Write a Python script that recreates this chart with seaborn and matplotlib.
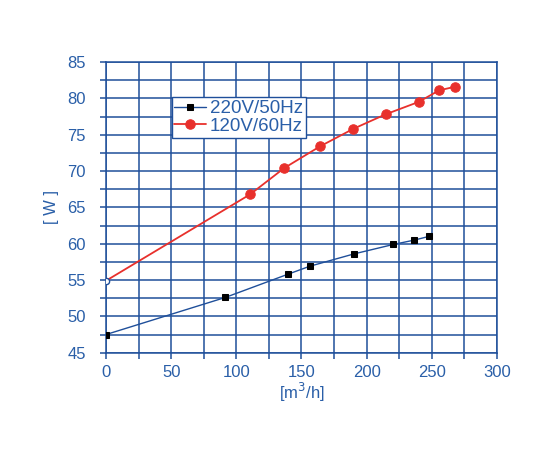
import matplotlib
matplotlib.use("Agg")
import matplotlib.pyplot as plt
import seaborn as sns
import numpy as np
import pandas as pd
from matplotlib.ticker import MultipleLocator

# Data
flow_220 = [0, 91.5, 139.6, 156.4, 190.4, 220.6, 236.7, 247.7]
power_220 = [47.5, 52.6, 55.8, 56.9, 58.6, 59.9, 60.5, 61.0]

flow_120 = [0, 110.7, 136.7, 164.3, 189.7, 214.5, 239.8, 255.6, 267.9]
power_120 = [54.9, 66.8, 70.4, 73.4, 75.8, 77.8, 79.5, 81.1, 81.6]

labels = ["220V/50Hz", "120V/60Hz"]

blue = "#1f4f9a"
text_blue = "#2a5fa8"
red = "#e8302c"

sns.set_theme(style="white")
plt.rcParams['font.family'] = ['Liberation Sans', 'DejaVu Sans']

fig = plt.figure(figsize=(5.5, 4.5), dpi=100)
ax = fig.add_axes([0.1927, 0.2162, 0.7109, 0.646])

df220 = pd.DataFrame({"flow": flow_220, "power": power_220})
df120 = pd.DataFrame({"flow": flow_120, "power": power_120})

sns.lineplot(data=df220, x="flow", y="power", ax=ax, color=blue, lw=1.0,
             marker="s", markersize=4.6, markerfacecolor="black",
             markeredgecolor="black", label=labels[0], zorder=3)
sns.lineplot(data=df120, x="flow", y="power", ax=ax, color=red, lw=1.3,
             marker="o", markersize=6.8, markerfacecolor=red,
             markeredgecolor=red, markevery=list(range(1, len(flow_120))),
             label=labels[1], zorder=3)
# open start point of the 120V curve
ax.plot(flow_120[:1], power_120[:1], ls="none", marker="o", markersize=4.5,
        markerfacecolor="white", markeredgecolor=blue, mew=1.0, zorder=4)

ax.set_xlim(0, 300)
ax.set_ylim(45, 85)
ax.xaxis.set_major_locator(MultipleLocator(50))
ax.xaxis.set_minor_locator(MultipleLocator(25))
ax.yaxis.set_major_locator(MultipleLocator(5))
ax.yaxis.set_minor_locator(MultipleLocator(2.5))

ax.grid(True, which="both", color=blue, lw=1.1)
ax.set_axisbelow(True)
for s in ax.spines.values():
    s.set_color(blue)
    s.set_linewidth(1.1)

ax.tick_params(which="both", direction="out", length=4.5, width=1.1,
               color=blue, labelcolor=text_blue, labelsize=12,
               bottom=True, left=True)
ax.tick_params(axis="x", which="both", pad=4)
ax.tick_params(axis="y", which="both", pad=10)

ax.set_xlabel("[m$^3$/h]", color=text_blue, fontsize=12, labelpad=1)
ax.set_ylabel("[ W ]", color=text_blue, fontsize=12, labelpad=6)

leg = ax.legend(loc="upper left", bbox_to_anchor=(0.168, 0.878),
                frameon=True, fancybox=False, fontsize=13.5,
                handlelength=1.7, handletextpad=0.2, borderpad=0.15,
                labelspacing=0.02, borderaxespad=0)
leg.get_frame().set_edgecolor(blue)
leg.get_frame().set_linewidth(1.0)
leg.get_frame().set_facecolor("white")
leg.get_frame().set_alpha(1)
for t in leg.get_texts():
    t.set_color(text_blue)

fig.savefig("out.png", dpi=100)
